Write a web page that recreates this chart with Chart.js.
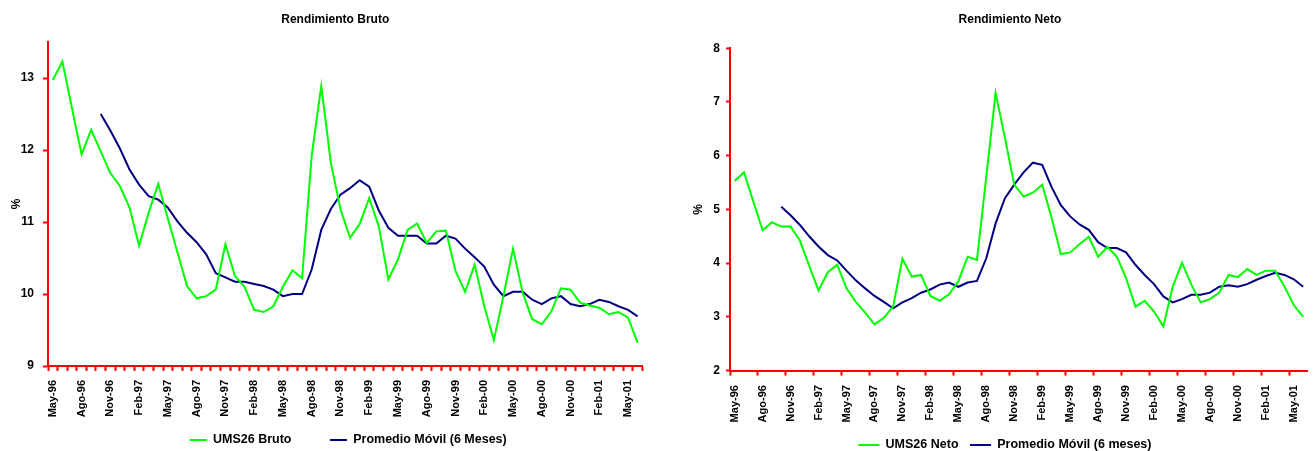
<!DOCTYPE html>
<html>
<head>
<meta charset="utf-8">
<script src="https://cdn.jsdelivr.net/npm/chart.js@4.4.1/dist/chart.umd.min.js"></script>
<style>
  html, body { margin: 0; padding: 0; background: #fff; overflow: hidden; }
  #wrap { position: relative; width: 1314px; height: 451px; overflow: hidden; background: #fff; }
  #bruto { position: absolute; left: 0; top: 0; }
  #neto { position: absolute; left: 660px; top: 0; }
</style>
</head>
<body>
<div id="wrap">
  <canvas id="bruto" width="660" height="483"></canvas>
  <canvas id="neto" width="666" height="462"></canvas>
</div>
<script>
const months = [
  "May-96", "Jun-96", "Jul-96", "Ago-96", "Sep-96", "Oct-96", "Nov-96", "Dic-96",
  "Ene-97", "Feb-97", "Mar-97", "Abr-97", "May-97", "Jun-97", "Jul-97", "Ago-97", "Sep-97", "Oct-97", "Nov-97", "Dic-97",
  "Ene-98", "Feb-98", "Mar-98", "Abr-98", "May-98", "Jun-98", "Jul-98", "Ago-98", "Sep-98", "Oct-98", "Nov-98", "Dic-98",
  "Ene-99", "Feb-99", "Mar-99", "Abr-99", "May-99", "Jun-99", "Jul-99", "Ago-99", "Sep-99", "Oct-99", "Nov-99", "Dic-99",
  "Ene-00", "Feb-00", "Mar-00", "Abr-00", "May-00", "Jun-00", "Jul-00", "Ago-00", "Sep-00", "Oct-00", "Nov-00", "Dic-00",
  "Ene-01", "Feb-01", "Mar-01", "Abr-01", "May-01", "Jun-01"
];

// Rendimiento Bruto
const brutoUms = [
  12.97, 13.23, 12.58, 11.94, 12.28, 11.98, 11.68, 11.50,
  11.20, 10.67, 11.13, 11.53, 11.05, 10.58, 10.11, 9.94, 9.97, 10.06, 10.69, 10.25,
  10.10, 9.78, 9.75, 9.83, 10.10, 10.33, 10.22, 11.92, 12.89, 11.82, 11.18, 10.78,
  10.97, 11.33, 10.94, 10.20, 10.48, 10.89, 10.98, 10.71, 10.87, 10.88, 10.32, 10.03,
  10.41, 9.83, 9.36, 9.97, 10.63, 10.02, 9.65, 9.58, 9.76, 10.08, 10.06, 9.88,
  9.84, 9.81, 9.72, 9.75, 9.67, 9.32
];
const brutoAvg = [
  null, null, null, null, null, 12.50, 12.27, 12.02,
  11.73, 11.52, 11.36, 11.31, 11.20, 11.01, 10.85, 10.72, 10.55, 10.29, 10.23, 10.17,
  10.17, 10.14, 10.11, 10.06, 9.97, 10.00, 10.00, 10.34, 10.89, 11.18, 11.38, 11.47,
  11.58, 11.49, 11.16, 10.92, 10.81, 10.81, 10.81, 10.70, 10.70, 10.81, 10.77, 10.63,
  10.51, 10.38, 10.13, 9.97, 10.03, 10.03, 9.92, 9.86, 9.94, 9.97, 9.86, 9.83,
  9.86, 9.92, 9.89, 9.83, 9.78, 9.69
];

// Rendimiento Neto
const netoUms = [
  5.53, 5.69, 5.15, 4.61, 4.76, 4.68, 4.68, 4.42,
  3.95, 3.49, 3.83, 3.97, 3.53, 3.28, 3.08, 2.86, 2.98, 3.19, 4.08, 3.75,
  3.78, 3.39, 3.30, 3.42, 3.66, 4.12, 4.06, 5.61, 7.17, 6.33, 5.46, 5.24,
  5.31, 5.46, 4.85, 4.17, 4.20, 4.35, 4.49, 4.12, 4.30, 4.12, 3.72, 3.19,
  3.30, 3.10, 2.82, 3.56, 4.01, 3.60, 3.27, 3.33, 3.45, 3.78, 3.74, 3.89,
  3.78, 3.86, 3.86, 3.56, 3.22, 3.00
];
const netoAvg = [
  null, null, null, null, null, 5.05, 4.89, 4.71,
  4.50, 4.31, 4.15, 4.05, 3.86, 3.68, 3.53, 3.39, 3.28, 3.16, 3.27, 3.35,
  3.45, 3.51, 3.60, 3.64, 3.56, 3.64, 3.67, 4.09, 4.74, 5.21, 5.46, 5.69,
  5.87, 5.83, 5.42, 5.08, 4.87, 4.72, 4.62, 4.39, 4.28, 4.28, 4.20, 3.97,
  3.78, 3.61, 3.38, 3.27, 3.33, 3.41, 3.41, 3.45, 3.56, 3.59, 3.56, 3.61,
  3.69, 3.76, 3.82, 3.78, 3.70, 3.56
];

const GREEN = "#00FF00";
const NAVY = "#000080";
const RED = "#FF0000";
const FONT = "'Liberation Sans', Arial, sans-serif";

// shift title / legend once the layout is done
const nudge = {
  id: "nudge",
  afterLayout(chart, args, opts) {
    const t = chart.titleBlock, l = chart.legend;
    if (t && opts.title) { t.left += opts.title; t.right += opts.title; }
    if (l && opts.legend) { l.left += opts.legend; l.right += opts.legend; }
    if (l && opts.legendY) { l.top += opts.legendY; l.bottom += opts.legendY; }
  }
};

function makeChart(id, cfg) {
  return new Chart(document.getElementById(id), {
    type: "line",
    data: {
      labels: months,
      datasets: [
        {
          label: cfg.names[0],
          data: cfg.ums,
          borderColor: GREEN,
          backgroundColor: GREEN,
          borderWidth: 2,
          pointRadius: 0,
          tension: 0,
        },
        {
          label: cfg.names[1],
          data: cfg.avg,
          borderColor: NAVY,
          backgroundColor: NAVY,
          borderWidth: 2,
          pointRadius: 0,
          tension: 0,
        },
      ],
    },
    options: {
      responsive: false,
      animation: false,
      layout: { padding: cfg.padding },
      scales: {
        x: {
          offset: true,
          border: { color: RED, width: 2 },
          grid: {
            offset: true,
            drawOnChartArea: false,
            tickLength: 5,
            tickWidth: 2,
            tickColor: cfg.xTickColor,
          },
          ticks: {
            autoSkip: false,
            minRotation: 90,
            maxRotation: 90,
            padding: cfg.xPad,
            color: "#000",
            font: { family: FONT, size: 11, weight: "bold" },
            callback: (v, i) => (i % 3 === 0 ? months[i] : ""),
          },
          afterFit: (s) => { s.height = cfg.xHeight; },
        },
        y: {
          min: cfg.min,
          max: cfg.max,
          border: { color: RED, width: 2 },
          grid: {
            drawOnChartArea: false,
            tickLength: cfg.yTick,
            tickWidth: 2,
            tickColor: RED,
          },
          ticks: {
            stepSize: 1,
            padding: cfg.yPad,
            color: "#000",
            font: { family: FONT, size: 12, weight: "bold" },
          },
          afterBuildTicks: (s) => {
            s.ticks = s.ticks.filter((t) => Number.isInteger(t.value));
          },
          title: {
            display: true,
            text: "%",
            color: "#000",
            font: { family: FONT, size: 12, weight: "bold" },
            padding: { top: cfg.pctPad, bottom: 0 },
          },
          afterFit: (s) => { s.width = cfg.yWidth; },
        },
      },
      plugins: {
        title: {
          display: true,
          text: cfg.title,
          fullSize: false,
          color: "#000",
          font: { family: FONT, size: 12, weight: "bold" },
          padding: { top: 12, bottom: cfg.titleBottom },
        },
        legend: {
          position: "bottom",
          fullSize: false,
          labels: {
            usePointStyle: true,
            pointStyle: "line",
            pointStyleWidth: cfg.legendLine,
            padding: cfg.legendPad,
            color: "#000",
            font: { family: FONT, size: 12.5, weight: "bold" },
          },
        },
        tooltip: { enabled: false },
        nudge: cfg.nudge,
      },
    },
    plugins: [nudge],
  });
}

makeChart("bruto", {
  title: "Rendimiento Bruto",
  names: ["UMS26 Bruto", "Promedio Móvil (6 Meses)"],
  ums: brutoUms,
  avg: brutoAvg,
  min: 9,
  max: 13.5,
  padding: { left: 0, right: 14, top: 0, bottom: 1 },
  titleBottom: 15.6,
  yWidth: 48,
  yTick: 5,
  yPad: 9,
  pctPad: 9,
  xHeight: 55,
  xPad: 9,
  xTickColor: RED,
  legendLine: 17,
  legendPad: 38.5,
  nudge: { title: -10, legend: 3, legendY: -25.75 },
});

makeChart("neto", {
  title: "Rendimiento Neto",
  names: ["UMS26 Neto", "Promedio Móvil (6 meses)"],
  ums: netoUms,
  avg: netoAvg,
  min: 2,
  max: 8,
  padding: { left: 0, right: 16, top: 0, bottom: 0.75 },
  titleBottom: 21.8,
  yWidth: 70,
  yTick: 4,
  yPad: 6,
  pctPad: 31,
  xHeight: 56.65,
  xPad: 9.5,
  xTickColor: (ctx) => (ctx.index % 3 === 0 ? RED : "rgba(0,0,0,0)"),
  legendLine: 21,
  legendPad: 11.5,
  nudge: { title: -9, legend: -14 },
});
</script>
</body>
</html>
